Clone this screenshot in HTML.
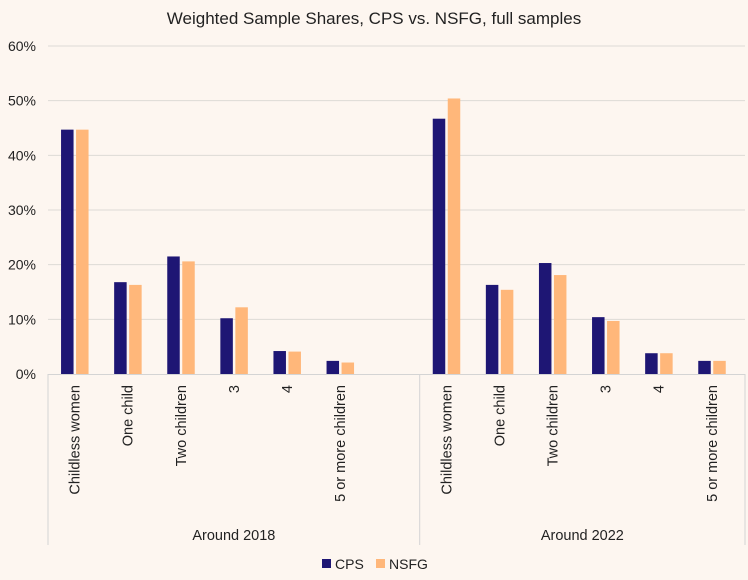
<!DOCTYPE html>
<html><head><meta charset="utf-8"><style>
body{margin:0;background:#fdf6f0;}
svg{display:block;font-family:"Liberation Sans",sans-serif;}
</style></head><body>
<svg id="c" width="748" height="580">
<rect width="748" height="580" fill="#fdf6f0"/>
<text x="374" y="24" text-anchor="middle" font-size="17" fill="#222">Weighted Sample Shares, CPS vs. NSFG, full samples</text>
</svg>
<script>
const categories=["Childless women","One child","Two children","3","4","5 or more children"];
const groups=["Around 2018","Around 2022"];
const cps2018=[44.7,16.8,21.5,10.2,4.2,2.4];
const nsfg2018=[44.7,16.3,20.6,12.2,4.1,2.1];
const cps2022=[46.7,16.3,20.3,10.4,3.8,2.4];
const nsfg2022=[50.4,15.4,18.1,9.7,3.8,2.4];
const yTicks=[0,10,20,30,40,50,60];
const svg=document.getElementById('c');
const NS="http://www.w3.org/2000/svg";
const x0=48,x1=745,y0=374,yTop=46;
const sw=53.1;
const y=v=>y0-(v/60)*(y0-yTop);
function mk(t,a){const e=document.createElementNS(NS,t);for(const k in a)e.setAttribute(k,a[k]);svg.appendChild(e);return e;}
yTicks.forEach(t=>{
 if(t>0){const l=mk('line',{x1:x0,x2:x1,y1:y(t),y2:y(t),stroke:'#dddad6','stroke-width':1});
 
 }
 const tx=mk('text',{x:36,y:y(t)+5,'text-anchor':'end','font-size':14,fill:'#222'});tx.textContent=t+'%';
 
 
});
const ax=mk('line',{x1:x0,x2:x1,y1:y0+0.5,y2:y0+0.5,stroke:'#d4d4d4'});


const series=[[cps2018,nsfg2018],[cps2022,nsfg2022]];
const starts=[0,7];
const gEnds=[x0,x0+7*sw,x1];
gEnds.forEach(xx=>{const l=mk('line',{x1:xx,x2:xx,y1:y0,y2:545,stroke:'#d4d4d4'});
 
 });
groups.forEach((g,gi)=>{
 categories.forEach((c,i)=>{
  const cx=x0+(starts[gi]+i+0.5)*sw;
  const a=series[gi][0][i],b=series[gi][1][i];
  const r1=mk('rect',{x:cx-13.5,y:y(a),width:12.5,height:y0-y(a),fill:'#1e1674'});
  
  
  const r2=mk('rect',{x:cx+1.5,y:y(b),width:12.5,height:y0-y(b),fill:'#ffb77a'});
  
  
  const t=mk('text',{x:0,y:0,'text-anchor':'end','font-size':14.5,fill:'#222',transform:`translate(${cx+5},385) rotate(-90)`});
  t.textContent=c;
  
  
 });
 const gx=(gEnds[gi]+gEnds[gi+1])/2;
 const gt=mk('text',{x:gx,y:540,'text-anchor':'middle','font-size':14.5,fill:'#222'});gt.textContent=g;
 
 
});
[['CPS','#1e1674',322],['NSFG','#ffb77a',376]].forEach(([n,col,lx])=>{
 const s=mk('rect',{x:lx,y:559,width:9,height:9,fill:col});
 
 
 const t=mk('text',{x:lx+13,y:569,'font-size':14,fill:'#222'});t.textContent=n;
 
 
});
</script>
</body></html>
